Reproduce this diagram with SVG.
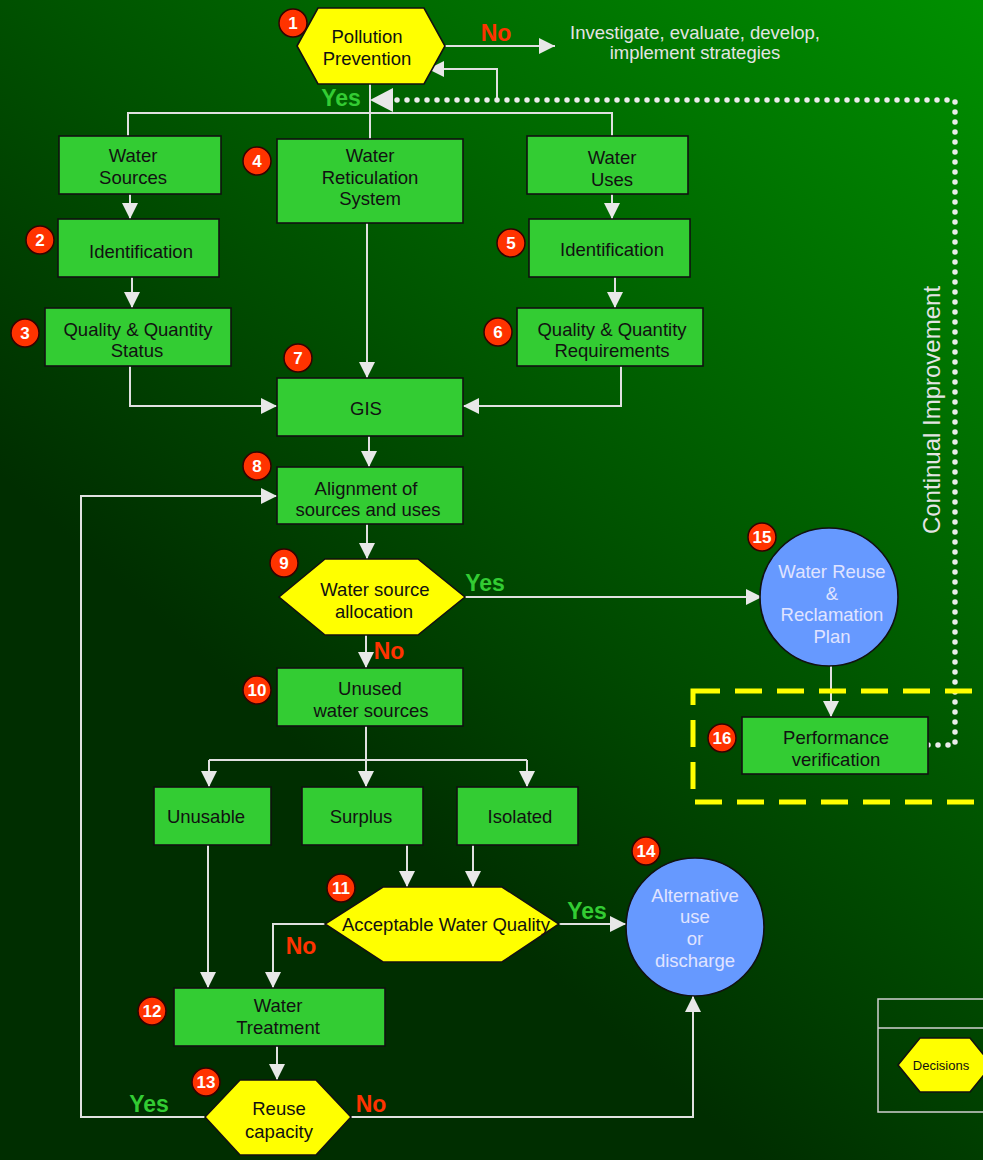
<svg xmlns="http://www.w3.org/2000/svg" width="983" height="1160" viewBox="0 0 983 1160">
<defs>
<linearGradient id="bg" gradientUnits="userSpaceOnUse" x1="983" y1="0" x2="302" y2="750">
<stop offset="0" stop-color="#009000"/>
<stop offset="1" stop-color="#002e00"/>
</linearGradient>
<marker id="ah" viewBox="0 0 16 16" refX="16" refY="8" markerWidth="16" markerHeight="16" markerUnits="userSpaceOnUse" orient="auto">
<path d="M0,0L16,8L0,16Z" fill="#e8e8e8"/>
</marker>
<style>
.box{fill:#33cc33;stroke:#111;stroke-width:1.6}
.hex{fill:#ffff00;stroke:#111;stroke-width:1.6}
.circ{fill:#6699ff;stroke:#111;stroke-width:1.6}
.t{font-family:"Liberation Sans",Arial,sans-serif;font-size:18.5px;fill:#111;text-anchor:middle}
.tl{font-family:"Liberation Sans",Arial,sans-serif;font-size:18.5px;fill:#e0e4ff;text-anchor:middle}
.tw{font-family:"Liberation Sans",Arial,sans-serif;font-size:18.5px;fill:#e4e4e4;text-anchor:middle}
.yes{font-family:"Liberation Sans",Arial,sans-serif;font-size:23px;font-weight:bold;fill:#33cc33;text-anchor:middle}
.no{font-family:"Liberation Sans",Arial,sans-serif;font-size:23px;font-weight:bold;fill:#ff3300;text-anchor:middle}
.bd{fill:#ff3300;stroke:#330000;stroke-width:1.5}
.bn{font-family:"Liberation Sans",Arial,sans-serif;font-size:17px;font-weight:bold;fill:#ffffff;text-anchor:middle}
.ln{fill:none;stroke:#e0e0e0;stroke-width:2}
.ar{fill:none;stroke:#e0e0e0;stroke-width:2;marker-end:url(#ah)}
.dot{fill:none;stroke:#ececec;stroke-width:5.5;stroke-linecap:round;stroke-dasharray:0 10}
</style>
</defs>
<rect x="0" y="0" width="983" height="1160" fill="url(#bg)"/>

<g id="connectors">
<path class="ar" d="M445,46 H555"/>
<path class="ar" d="M497,100 V69 H428"/>
<path class="ln" d="M370,84 V139"/>
<path class="ln" d="M128,136 V113 H612 V136"/>
<path class="dot" d="M928,745 H955 V100 H392"/>
<polygon points="370,100 393,88 393,112" fill="#e8e8e8"/>
<path class="ar" d="M130,194 V219"/>
<path class="ar" d="M132,277 V308"/>
<path class="ar" d="M130,366 V406 H277"/>
<path class="ar" d="M367,223 V378"/>
<path class="ar" d="M612,194 V219"/>
<path class="ar" d="M615,277 V308"/>
<path class="ar" d="M621,366 V406 H463"/>
<path class="ar" d="M369,436 V467"/>
<path class="ar" d="M205,1117 H81 V496 H277"/>
<path class="ar" d="M367,524 V559"/>
<path class="ar" d="M465,597 H762"/>
<path class="ar" d="M366,635 V668"/>
<path class="ar" d="M366,726 V787"/>
<path class="ln" d="M209,760 H527"/>
<path class="ar" d="M209,760 V787"/>
<path class="ar" d="M527,760 V787"/>
<path class="ar" d="M407,845 V887"/>
<path class="ar" d="M473,845 V887"/>
<path class="ar" d="M208,845 V988"/>
<path class="ar" d="M325,924 H273 V988"/>
<path class="ar" d="M559,924 H626"/>
<path class="ar" d="M277,1046 V1080"/>
<path class="ar" d="M351,1117 H693 V996"/>
<path class="ar" d="M831,666 V717"/>
</g>

<g id="labels">
<text class="no" x="496" y="41">No</text>
<text class="tw" x="695" y="39">Investigate, evaluate, develop,</text>
<text class="tw" x="695" y="59">implement strategies</text>
<text class="yes" x="341" y="106">Yes</text>
<text class="yes" x="485" y="591">Yes</text>
<text class="no" x="389" y="659">No</text>
<text class="yes" x="587" y="919">Yes</text>
<text class="no" x="301" y="954">No</text>
<text class="yes" x="149" y="1112">Yes</text>
<text class="no" x="371" y="1112">No</text>
<text transform="translate(940,410) rotate(-90)" font-family="Liberation Sans, Arial, sans-serif" font-size="24" fill="#e4e4e4" text-anchor="middle">Continual Improvement</text>
</g>

<g id="node1">
<polygon class="hex" points="297,46 318,8 424,8 445,46 424,84 318,84"/>
<text class="t" x="367" y="43">Pollution</text>
<text class="t" x="367" y="65">Prevention</text>
<circle class="bd" cx="293" cy="23" r="14"/><text class="bn" x="293" y="29">1</text>
</g>
<g id="water-sources">
<rect class="box" x="59" y="136" width="162" height="58"/>
<text class="t" x="133" y="162">Water</text>
<text class="t" x="133" y="184">Sources</text>
</g>
<g id="node2">
<rect class="box" x="58" y="219" width="161" height="58"/>
<text class="t" x="141" y="258">Identification</text>
<circle class="bd" cx="40" cy="240" r="14"/><text class="bn" x="40" y="246">2</text>
</g>
<g id="node3">
<rect class="box" x="45" y="308" width="186" height="58"/>
<text class="t" x="138" y="336">Quality &amp; Quantity</text>
<text class="t" x="137" y="357">Status</text>
<circle class="bd" cx="25" cy="333" r="14"/><text class="bn" x="25" y="339">3</text>
</g>
<g id="node4">
<rect class="box" x="277" y="139" width="186" height="84"/>
<text class="t" x="370" y="162">Water</text>
<text class="t" x="370" y="184">Reticulation</text>
<text class="t" x="370" y="205">System</text>
<circle class="bd" cx="257" cy="161" r="14"/><text class="bn" x="257" y="167">4</text>
</g>
<g id="water-uses">
<rect class="box" x="527" y="136" width="161" height="58"/>
<text class="t" x="612" y="164">Water</text>
<text class="t" x="612" y="186">Uses</text>
</g>
<g id="node5">
<rect class="box" x="529" y="219" width="161" height="58"/>
<text class="t" x="612" y="256">Identification</text>
<circle class="bd" cx="511" cy="243" r="14"/><text class="bn" x="511" y="249">5</text>
</g>
<g id="node6">
<rect class="box" x="517" y="308" width="186" height="58"/>
<text class="t" x="612" y="336">Quality &amp; Quantity</text>
<text class="t" x="612" y="357">Requirements</text>
<circle class="bd" cx="498" cy="332" r="14"/><text class="bn" x="498" y="338">6</text>
</g>
<g id="node7">
<rect class="box" x="277" y="378" width="186" height="58"/>
<text class="t" x="366" y="415">GIS</text>
<circle class="bd" cx="298" cy="358" r="14"/><text class="bn" x="298" y="364">7</text>
</g>
<g id="node8">
<rect class="box" x="277" y="467" width="186" height="57"/>
<text class="t" x="366" y="495">Alignment of</text>
<text class="t" x="368" y="516">sources and uses</text>
<circle class="bd" cx="257" cy="466" r="14"/><text class="bn" x="257" y="472">8</text>
</g>
<g id="node9">
<polygon class="hex" points="279,597 325,559 418,559 465,597 418,635 325,635"/>
<text class="t" x="375" y="596">Water source</text>
<text class="t" x="374" y="618">allocation</text>
<circle class="bd" cx="284" cy="563" r="14"/><text class="bn" x="284" y="569">9</text>
</g>
<g id="node10">
<rect class="box" x="277" y="668" width="186" height="58"/>
<text class="t" x="370" y="695">Unused</text>
<text class="t" x="371" y="717">water sources</text>
<circle class="bd" cx="257" cy="690" r="14"/><text class="bn" x="257" y="696">10</text>
</g>
<g id="unusable">
<rect class="box" x="154" y="787" width="117" height="58"/>
<text class="t" x="206" y="823">Unusable</text>
</g>
<g id="surplus">
<rect class="box" x="302" y="787" width="121" height="58"/>
<text class="t" x="361" y="823">Surplus</text>
</g>
<g id="isolated">
<rect class="box" x="457" y="787" width="121" height="58"/>
<text class="t" x="520" y="823">Isolated</text>
</g>
<g id="node11">
<polygon class="hex" points="325,924 383,887 502,887 559,924 502,962 383,962"/>
<text class="t" x="446" y="931">Acceptable Water Quality</text>
<circle class="bd" cx="341" cy="888" r="14"/><text class="bn" x="341" y="894">11</text>
</g>
<g id="node12">
<rect class="box" x="174" y="988" width="211" height="58"/>
<text class="t" x="278" y="1012">Water</text>
<text class="t" x="278" y="1034">Treatment</text>
<circle class="bd" cx="152" cy="1011" r="14"/><text class="bn" x="152" y="1017">12</text>
</g>
<g id="node13">
<polygon class="hex" points="205,1117 240,1080 316,1080 351,1117 316,1155 240,1155"/>
<text class="t" x="279" y="1115">Reuse</text>
<text class="t" x="279" y="1138">capacity</text>
<circle class="bd" cx="206" cy="1082" r="14"/><text class="bn" x="206" y="1088">13</text>
</g>
<g id="node14">
<circle class="circ" cx="695" cy="927" r="69"/>
<text class="tl" x="695" y="902">Alternative</text>
<text class="tl" x="695" y="923">use</text>
<text class="tl" x="695" y="945">or</text>
<text class="tl" x="695" y="967">discharge</text>
<circle class="bd" cx="646" cy="851" r="14"/><text class="bn" x="646" y="857">14</text>
</g>
<g id="node15">
<circle class="circ" cx="829" cy="597" r="69"/>
<text class="tl" x="832" y="578">Water Reuse</text>
<text class="tl" x="832" y="600">&amp;</text>
<text class="tl" x="832" y="621">Reclamation</text>
<text class="tl" x="832" y="643">Plan</text>
<circle class="bd" cx="762" cy="537" r="14"/><text class="bn" x="762" y="543">15</text>
</g>
<g id="node16">
<rect x="693" y="691" width="400" height="111" fill="none" stroke="#ffff00" stroke-width="5" stroke-dasharray="27 15"/>
<rect class="box" x="742" y="717" width="186" height="57"/>
<text class="t" x="836" y="744">Performance</text>
<text class="t" x="836" y="766">verification</text>
<circle class="bd" cx="722" cy="738" r="14"/><text class="bn" x="722" y="744">16</text>
</g>
<g id="legend">
<rect x="878" y="999" width="130" height="113" fill="none" stroke="#d0d0d0" stroke-width="1.5"/>
<line x1="878" y1="1028" x2="983" y2="1028" stroke="#d0d0d0" stroke-width="1.5"/>
<polygon class="hex" points="898,1065 920,1038 970,1038 992,1065 970,1092 920,1092"/>
<text x="941" y="1070" font-family="Liberation Sans, Arial, sans-serif" font-size="13" fill="#111" text-anchor="middle">Decisions</text>
</g>
</svg>
